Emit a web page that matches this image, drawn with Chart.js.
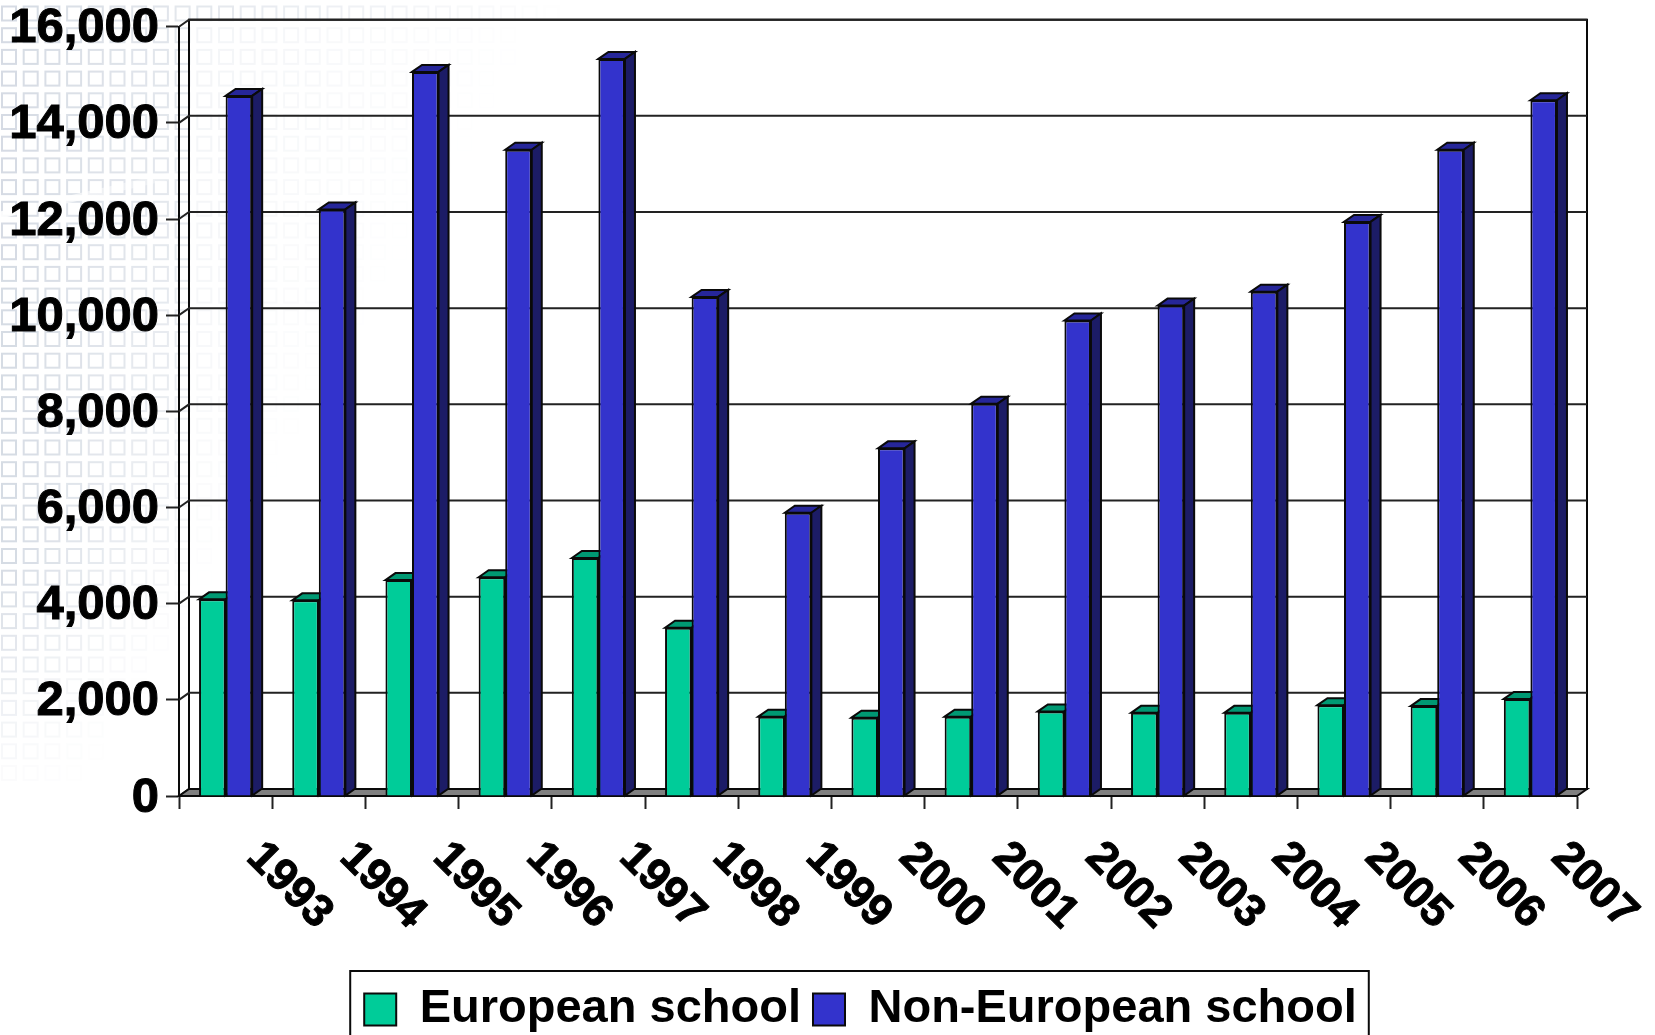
<!DOCTYPE html>
<html>
<head>
<meta charset="utf-8">
<title>European and non-European schools</title>
<script src="https://cdn.jsdelivr.net/npm/chart.js@4"></script>
<style>
  html, body { margin: 0; padding: 0; background: #fff; overflow: hidden; }
  canvas { display: block; }
</style>
</head>
<body>
<canvas id="schoolChart" width="1655" height="1035"></canvas>
<script>
const years = ['1993', '1994', '1995', '1996', '1997', '1998', '1999', '2000', '2001', '2002', '2003', '2004', '2005', '2006', '2007'];
const europeanSchool = [4090, 4070, 4490, 4550, 4950, 3500, 1650, 1630, 1650, 1760, 1730, 1730, 1890, 1870, 2020];
const nonEuropeanSchool = [14560, 12200, 15060, 13440, 15330, 10380, 5890, 7230, 8160, 9890, 10200, 10490, 11940, 13440, 14470];

const ink = '#0a0a0a';
const fontFamily = '"Liberation Sans", Arial, sans-serif';
// how far the back wall sits behind the front plane
const depthX = 10;
const depthY = 7;

function poly(ctx, pts, fill) {
    ctx.beginPath();
    pts.forEach((p, i) => i ? ctx.lineTo(p[0], p[1]) : ctx.moveTo(p[0], p[1]));
    ctx.closePath();
    if (fill) {
        ctx.fillStyle = fill;
        ctx.fill();
    }
    ctx.stroke();
}

// faint slide template behind the chart: rows of little squares fading out to the right
const templatePlugin = {
    id: 'template',
    beforeDraw(chart) {
        const ctx = chart.ctx;
        const pitch = 21.7;
        ctx.save();
        ctx.fillStyle = '#fff';
        ctx.fillRect(0, 0, chart.width, chart.height);
        ctx.lineWidth = 2;
        ctx.filter = 'blur(0.6px)';
        for (let row = 0; row < 40; row++) {
            const y = 6.5 + row * pitch;
            const reach = 560 - y * 0.62;
            for (let col = 0; col < 32; col++) {
                const x = 2 + col * pitch;
                let a = 1 - x / reach;
                if (y > 560) a *= Math.max(0, 1 - (y - 560) / 230);
                if (a <= 0) continue;
                ctx.strokeStyle = `rgba(196,204,216,${(a * 0.7).toFixed(3)})`;
                ctx.strokeRect(x, y, 14, 14);
            }
        }
        ctx.filter = 'none';
        // the pale streak across the template
        const g = ctx.createLinearGradient(0, 215, 240, 160);
        g.addColorStop(0, 'rgba(255,255,255,0.9)');
        g.addColorStop(1, 'rgba(255,255,255,0)');
        ctx.strokeStyle = g;
        ctx.lineWidth = 7;
        ctx.beginPath();
        ctx.moveTo(0, 215);
        ctx.lineTo(240, 160);
        ctx.stroke();
        ctx.restore();
    }
};

// back wall, floor and the top and side faces of the bars
const depthPlugin = {
    id: 'depth',
    beforeDatasetsDraw(chart) {
        const ctx = chart.ctx;
        const area = chart.chartArea;
        const yScale = chart.scales.y;
        ctx.save();
        ctx.lineWidth = 2;
        ctx.strokeStyle = ink;
        ctx.lineJoin = 'miter';

        // back wall
        ctx.fillStyle = 'rgba(255,255,255,0.55)';
        ctx.fillRect(area.left + depthX, area.top - depthY, area.width, area.height);
        ctx.strokeRect(area.left + depthX, area.top - depthY, area.width, area.height);

        // grid lines run along the back wall and come forward down the side wall
        yScale.ticks.forEach((tick) => {
            const y = yScale.getPixelForValue(tick.value);
            ctx.strokeStyle = '#222';
            ctx.beginPath();
            ctx.moveTo(area.left, y);
            ctx.lineTo(area.left + depthX, y - depthY);
            ctx.lineTo(area.right + depthX, y - depthY);
            ctx.stroke();
        });

        // floor
        ctx.strokeStyle = ink;
        poly(ctx, [
            [area.left, area.bottom],
            [area.left + depthX, area.bottom - depthY],
            [area.right + depthX, area.bottom - depthY],
            [area.right, area.bottom]
        ], '#808080');

        const faces = [
            { top: '#009973', side: '#00664d' },
            { top: '#262699', side: '#1c1c66' }
        ];
        faces.forEach((face, i) => {
            chart.getDatasetMeta(i).data.forEach((bar) => {
                const half = bar.width / 2;
                const left = bar.x - half;
                const right = bar.x + half;
                poly(ctx, [
                    [left, bar.y],
                    [left + depthX, bar.y - depthY],
                    [right + depthX, bar.y - depthY],
                    [right, bar.y]
                ], face.top);
                poly(ctx, [
                    [right, bar.y],
                    [right + depthX, bar.y - depthY],
                    [right + depthX, bar.base - depthY],
                    [right, bar.base]
                ], face.side);
            });
        });
        ctx.restore();
    }
};

// the legend sits off centre in the picture, in a frame that runs off the bottom
const legendFramePlugin = {
    id: 'legendFrame',
    afterLayout(chart) {
        chart.legend.left += 72;
        chart.legend.right += 72;
        chart.legend.adjustHitBoxes();
    },
    afterDraw(chart) {
        const boxes = chart.legend.legendHitBoxes;
        const last = boxes[boxes.length - 1];
        const ctx = chart.ctx;
        ctx.save();
        ctx.strokeStyle = ink;
        ctx.lineWidth = 2;
        ctx.strokeRect(boxes[0].left - 14, chart.legend.top - 3, last.left + last.width - boxes[0].left + 26, 120);
        ctx.restore();
    }
};

const ctx = document.getElementById('schoolChart').getContext('2d');

new Chart(ctx, {
    type: 'bar',
    data: {
        labels: years,
        datasets: [
            { label: 'European school', data: europeanSchool, backgroundColor: '#00CC99', borderColor: ink, borderWidth: 2 },
            { label: 'Non-European school', data: nonEuropeanSchool, backgroundColor: '#3333CC', borderColor: ink, borderWidth: 2 }
        ]
    },
    options: {
        responsive: false,
        animation: false,
        layout: { padding: { top: 26.7, left: 0, right: 78, bottom: -8 } },
        datasets: { bar: { barPercentage: 1, categoryPercentage: 0.57 } },
        scales: {
            x: {
                grid: { drawOnChartArea: false, offset: true, tickLength: 13, tickColor: '#222', tickWidth: 2 },
                border: { display: true, color: ink, width: 2 },
                ticks: {
                    autoSkip: false,
                    minRotation: -45,
                    maxRotation: -45,
                    padding: 93,
                    labelOffset: 99,
                    color: '#000',
                    textStrokeColor: '#000',
                    textStrokeWidth: 1,
                    font: { family: fontFamily, size: 45, weight: 'bold' }
                },
                afterFit(scale) {
                    scale.height = 178;
                    scale.paddingLeft = 0;
                    scale.paddingRight = 0;
                }
            },
            y: {
                min: 0,
                max: 16000,
                grid: { drawOnChartArea: false, tickLength: 13, tickColor: '#222', tickWidth: 2 },
                border: { display: true, color: ink, width: 2 },
                ticks: {
                    stepSize: 2000,
                    padding: 7,
                    labelOffset: 2,
                    color: '#000',
                    textStrokeColor: '#000',
                    textStrokeWidth: 1,
                    font: { family: fontFamily, size: 49, weight: 'bold' }
                },
                afterFit(scale) {
                    scale.width = 179;
                    scale.paddingTop = 0;
                    scale.paddingBottom = 0;
                }
            }
        },
        plugins: {
            tooltip: { enabled: false },
            legend: {
                position: 'bottom',
                labels: {
                    boxWidth: 32,
                    boxHeight: 32,
                    padding: 12,
                    color: '#000',
                    font: { family: fontFamily, size: 47, weight: 'bold' }
                }
            }
        }
    },
    plugins: [templatePlugin, depthPlugin, legendFramePlugin]
});
</script>
</body>
</html>
